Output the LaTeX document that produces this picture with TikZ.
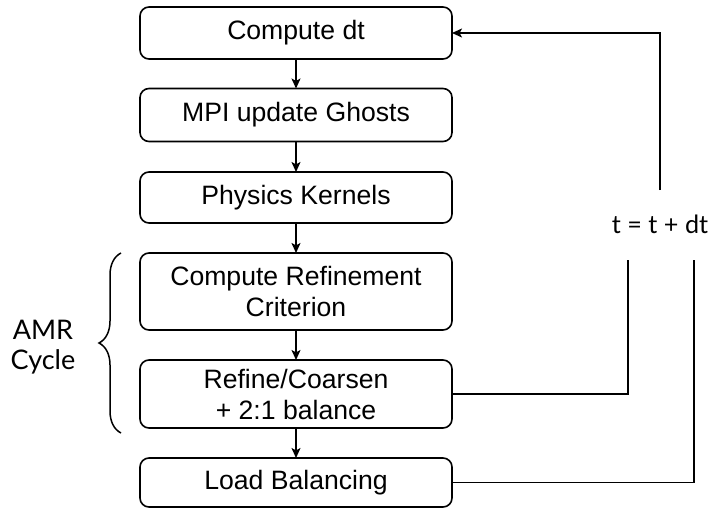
\documentclass[tikz,border=0pt]{standalone}
\usepackage{fontspec}
\setmainfont{Liberation Sans}
\newfontfamily\latofont{Lato}
\usetikzlibrary{arrows.meta,decorations.pathreplacing}
\tikzset{
  stepbox/.style={draw, line width=0.8pt, rounded corners=4.5pt, inner sep=0pt, outer sep=0pt,
    minimum width=156pt, align=center, font=\fontsize{13.3}{15.5}\selectfont},
  conn/.style={line width=0.75pt},
  arr/.style={conn, -{Stealth[length=5pt,width=4.5pt,inset=1.2pt]}},
  lbl/.style={font=\latofont\fontsize{12.6}{15}\selectfont, inner sep=0pt},
  sidelbl/.style={font=\latofont\fontsize{13.5}{15}\selectfont, inner sep=0pt}
}
\begin{document}
\begin{tikzpicture}[x=0.5pt,y=-0.5pt]
\useasboundingbox (0,0) rectangle (711,508);
\node[stepbox, minimum height=26pt] (n1) at (296,33) {Compute dt};
\node[stepbox, minimum height=26.5pt] (n2) at (296,115) {MPI update Ghosts};
\node[stepbox, minimum height=25.5pt] (n3) at (296,197.5) {Physics Kernels};
\node[stepbox, minimum height=38.5pt] (n4) at (296,291.5) {Compute Refinement\\Criterion};
\node[stepbox, minimum height=34pt] (n5) at (296,394) {Refine/Coarsen\\+ 2:1 balance};
\node[stepbox, minimum height=24.5pt] (n6) at (296,482.5) {Load Balancing};
\draw[arr] (n1) -- (n2);
\draw[arr] (n2) -- (n3);
\draw[arr] (n3) -- (n4);
\draw[arr] (n4) -- (n5);
\draw[arr] (n5) -- (n6);
\node[lbl, anchor=base] (tlab) at (660,233) {t = t + dt};
\coordinate (c3) at (660,190);
\coordinate (c1) at (628,260);
\coordinate (c2) at (694,260);
\draw[arr] (c3) |- (n1.east);
\draw[conn] (n5.east) -| (c1);
\draw[conn] (n6.east) -| (c2);
\draw[conn, decorate, decoration={brace, amplitude=11pt}] (121,433) -- (121,253);
\node[sidelbl, anchor=base] (amr) at (43,339) {AMR};
\node[sidelbl, anchor=base] (cyc) at (43,369) {Cycle};
\end{tikzpicture}
\end{document}
